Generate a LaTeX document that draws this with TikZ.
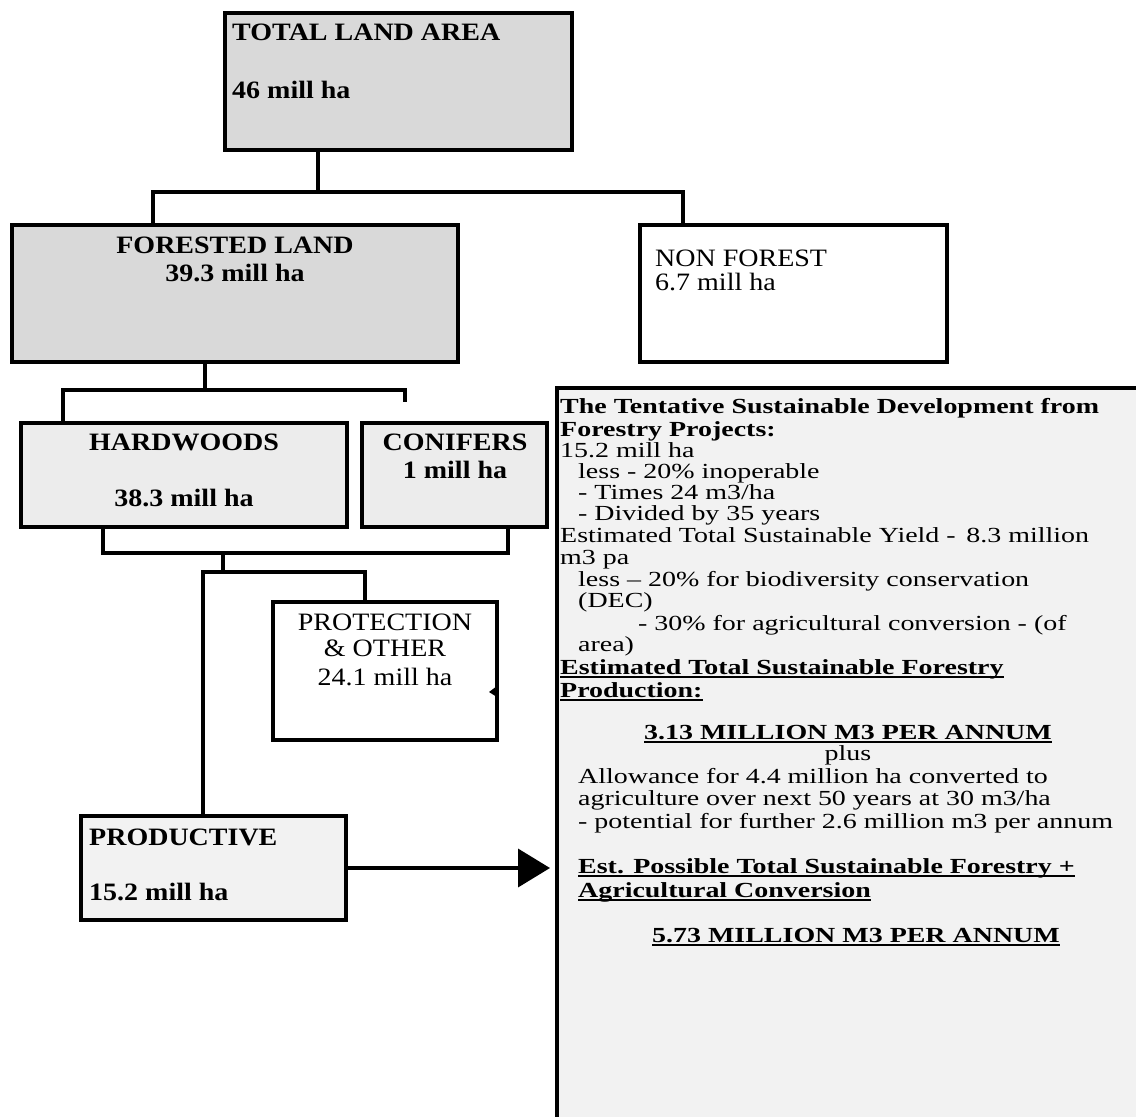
\documentclass[tikz,border=0pt]{standalone}
\usepackage{fontspec}
\setmainfont{Liberation Serif}
\newfontfamily\lblfont{Liberation Serif}[FakeStretch=1.12]
\newfontfamily\infofont{Liberation Serif}[FakeStretch=1.3]
\usetikzlibrary{arrows.meta}
\newcommand\myul[1]{\setbox0\hbox{#1}\rlap{\rule[-3.5pt]{\wd0}{1.8pt}}\box0}
\begin{document}
\begin{tikzpicture}[x=1pt,y=-1pt,
  box/.style={draw, line width=3.8pt, inner sep=0pt, outer sep=0pt, anchor=north west},
  conn/.style={line width=3.8pt},
  lbl/.style={inner sep=0pt, font=\lblfont\fontsize{25}{27}\selectfont},
  lblb/.style={inner sep=0pt, font=\lblfont\bfseries\fontsize{25}{27}\selectfont},
  itx/.style={inner sep=0pt, anchor=base west, font=\infofont\fontsize{21.5}{22}\selectfont},
  itc/.style={inner sep=0pt, anchor=base, font=\infofont\fontsize{21.5}{22}\selectfont}]
\useasboundingbox (0,0) rectangle (1136,1117);
\clip (0,0) rectangle (1136,1117);
\fill[white] (0,0) rectangle (1136,1117);

% boxes
\node[box, fill=gray!30, minimum width=347pt, minimum height=137pt] (total) at (225,13) {};
\node[box, fill=gray!30, minimum width=446pt, minimum height=137pt] (forest) at (12,225) {};
\node[box, minimum width=307pt, minimum height=137pt] (nonforest) at (640,225) {};
\node[box, fill=gray!15, minimum width=326pt, minimum height=104pt] (hard) at (21,423) {};
\node[box, fill=gray!15, minimum width=185pt, minimum height=104pt] (conif) at (362,423) {};
\node[box, minimum width=224pt, minimum height=138pt] (prot) at (273,602) {};
\node[box, fill=gray!10, minimum width=265pt, minimum height=104pt] (prod) at (81,816) {};
\node[box, line width=4.5pt, fill=gray!10, minimum width=600pt, minimum height=760pt] (info) at (557,388) {};

% connector junctions
\coordinate (j1) at (318,192);
\coordinate (jL1) at (153,192);
\coordinate (jR1) at (683,192);
\coordinate (j2) at (205,390);
\coordinate (jL2) at (63,390);
\coordinate (jR2) at (405,390);
\coordinate (stubC) at (405,402);
\coordinate (jL3) at (103,553);
\coordinate (jR3) at (508,553);
\coordinate (j3) at (223,553);
\coordinate (j4) at (223,572);
\coordinate (jL4) at (203,572);
\coordinate (jR4) at (365,572);

\draw[conn] (j1 |- total.south) -- (j1);
\draw[conn] (jL1 |- forest.north) -- (jL1) -- (jR1) -- (jR1 |- nonforest.north);
\draw[conn] (j2 |- forest.south) -- (j2);
\draw[conn] (jL2 |- hard.north) -- (jL2) -- (jR2) -- (stubC);
\draw[conn] (jL3 |- hard.south) -- (jL3) -- (jR3) -- (jR3 |- conif.south);
\draw[conn] (j3) -- (j4);
\draw[conn] (jL4 |- prod.north) -- (jL4) -- (jR4) -- (jR4 |- prot.north);
\draw[conn, shorten >=7pt, -{Triangle[length=32pt,width=38pt]}] (prod.east) -- (prod.east -| info.west);
\fill (prot.east |- 0,686) -- ++(-8,6) -- ++(8,5) -- cycle;

% box labels
\node[lblb, anchor=base west] (tTitle) at (232,40) {TOTAL LAND AREA};
\node[lblb, anchor=base west] (tVal) at (232,98) {46 mill ha};
\node[lblb, anchor=base] (fTitle) at (235,253) {FORESTED LAND};
\node[lblb, anchor=base] (fVal) at (235,281) {39.3 mill ha};
\node[lbl, anchor=base west] (nTitle) at (655,266) {NON FOREST};
\node[lbl, anchor=base west] (nVal) at (655,290) {6.7 mill ha};
\node[lblb, anchor=base] (hTitle) at (184,450) {HARDWOODS};
\node[lblb, anchor=base] (hVal) at (184,506) {38.3 mill ha};
\node[lblb, anchor=base] (cTitle) at (455,450) {CONIFERS};
\node[lblb, anchor=base] (cVal) at (455,478) {1 mill ha};
\node[lbl, anchor=base] (p1) at (385,630) {PROTECTION};
\node[lbl, anchor=base] (p2) at (385,656) {\& OTHER};
\node[lbl, anchor=base] (p3) at (385,685) {24.1 mill ha};
\node[lblb, anchor=base west] (q1) at (89,845) {PRODUCTIVE};
\node[lblb, anchor=base west] (q2) at (89,900) {15.2 mill ha};

% info text
\node[itx] (i1) at (560,413) {\bfseries The Tentative Sustainable Development from};
\node[itx] (i2) at (560,436) {\bfseries Forestry Projects:};
\node[itx] (i3) at (560,457) {15.2 mill ha};
\node[itx] (i4) at (578,478) {less - 20\% inoperable};
\node[itx] (i5) at (578,499) {- Times 24 m3/ha};
\node[itx] (i6) at (578,520) {- Divided by 35 years};
\node[itx] (i7) at (560,542) {Estimated Total Sustainable Yield -\enspace 8.3 million};
\node[itx] (i8) at (560,564) {m3 pa};
\node[itx] (i9) at (578,586) {less \textendash{} 20\% for biodiversity conservation};
\node[itx] (i10) at (578,607) {(DEC)};
\node[itx] (i11) at (638,630) {- 30\% for agricultural conversion - (of};
\node[itx] (i12) at (578,651) {area)};
\node[itx] (i13) at (560,674) {\bfseries\myul{Estimated Total Sustainable Forestry}};
\node[itx] (i14) at (560,697) {\bfseries\myul{Production:}};
\node[itc] (i15) at (848,739) {\bfseries\myul{3.13 MILLION M3 PER ANNUM}};
\node[itc] (i16) at (848,760) {plus};
\node[itx] (i17) at (578,783) {Allowance for 4.4 million ha converted to};
\node[itx] (i18) at (578,805) {agriculture over next 50 years at 30 m3/ha};
\node[itx] (i19) at (578,828) {- potential for further 2.6 million m3 per annum};
\node[itx] (i20) at (578,873) {\bfseries\myul{Est. Possible Total Sustainable Forestry +}};
\node[itx] (i21) at (578,897) {\bfseries\myul{Agricultural Conversion}};
\node[itc] (i22) at (856,942) {\bfseries\myul{5.73 MILLION M3 PER ANNUM}};
\end{tikzpicture}
\end{document}
